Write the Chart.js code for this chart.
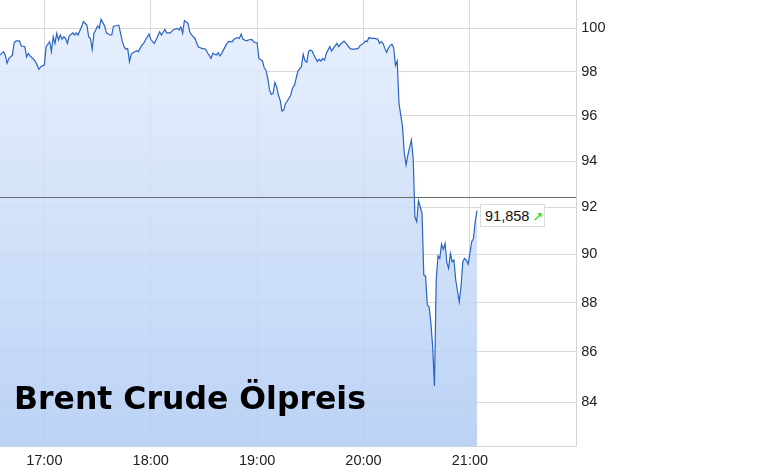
<!DOCTYPE html>
<html>
<head>
    <meta charset="utf-8">
    <title>Brent Crude Ölpreis</title>
    <style>
        body {
            margin: 0;
            background: #fff;
        }
        .wrap {
            position: relative;
            width: 773px;
            height: 472px;
        }
        .title {
            position: absolute;
            left: 14px;
            top: 383px;
            font-family: "DejaVu Sans", Verdana, sans-serif;
            font-weight: bold;
            font-size: 31.5px;
            line-height: 1;
            color: #000;
            white-space: nowrap;
        }
        .last {
            position: absolute;
            left: 480px;
            top: 204px;
            width: 65px;
            height: 23px;
            border: 1px solid #dcdcdc;
            background: #fff;
            font-family: "Liberation Sans", Arial, sans-serif;
            font-size: 14.5px;
            line-height: 22px;
            color: #111;
            padding-left: 4px;
            box-sizing: border-box;
            white-space: nowrap;
        }
        .last span {
            color: #00e000;
            font-size: 13px;
            margin-left: 3px;
            font-family: "DejaVu Sans", sans-serif;
        }
    </style>
    <script src="https://cdn.jsdelivr.net/npm/chart.js@4.4.1/dist/chart.umd.min.js"></script>
</head>
<body>
    <div class="wrap">
        <canvas id="oilChart" width="773" height="472"></canvas>
        <div class="title">Brent Crude Ölpreis</div>
        <div class="last">91,858<span>↗</span></div>
    </div>
    <script>
        const times = [
            '16:35', '16:37', '16:38', '16:39', '16:40', '16:42', '16:43', '16:44', '16:46', '16:47',
            '16:49', '16:50', '16:51', '16:52', '16:54', '16:55', '16:57', '16:58', '17:00', '17:01',
            '17:03', '17:04', '17:05', '17:06', '17:07', '17:08', '17:09', '17:10', '17:11', '17:12',
            '17:13', '17:14', '17:16', '17:17', '17:18', '17:19', '17:21', '17:22', '17:24', '17:25',
            '17:26', '17:27', '17:28', '17:29', '17:30', '17:31', '17:32', '17:34', '17:35', '17:37',
            '17:38', '17:39', '17:40', '17:42', '17:43', '17:44', '17:45', '17:46', '17:47', '17:48',
            '17:49', '17:50', '17:52', '17:53', '17:55', '17:56', '17:57', '17:59', '18:00', '18:02',
            '18:03', '18:05', '18:06', '18:08', '18:09', '18:11', '18:13', '18:15', '18:16', '18:17',
            '18:18', '18:19', '18:21', '18:22', '18:23', '18:25', '18:26', '18:27', '18:29', '18:31',
            '18:32', '18:34', '18:35', '18:37', '18:38', '18:39', '18:40', '18:42', '18:43', '18:44',
            '18:46', '18:47', '18:49', '18:50', '18:51', '18:52', '18:54', '18:55', '18:57', '18:58',
            '18:59', '19:00', '19:01', '19:03', '19:04', '19:05', '19:06', '19:07', '19:08', '19:09',
            '19:10', '19:11', '19:12', '19:13', '19:14', '19:15', '19:16', '19:17', '19:19', '19:20',
            '19:21', '19:22', '19:23', '19:25', '19:26', '19:27', '19:28', '19:29', '19:30', '19:31',
            '19:32', '19:33', '19:34', '19:35', '19:36', '19:37', '19:38', '19:39', '19:41', '19:42',
            '19:43', '19:45', '19:46', '19:47', '19:49', '19:51', '19:52', '19:53', '19:55', '19:57',
            '19:58', '20:00', '20:01', '20:02', '20:03', '20:05', '20:06', '20:08', '20:09', '20:10',
            '20:11', '20:12', '20:13', '20:14', '20:15', '20:16', '20:17', '20:18', '20:19', '20:20',
            '20:22', '20:23', '20:24', '20:25', '20:27', '20:28', '20:29', '20:30', '20:31', '20:32',
            '20:33', '20:34', '20:35', '20:36', '20:37', '20:38', '20:39', '20:40', '20:41', '20:42',
            '20:43', '20:44', '20:45', '20:46', '20:47', '20:48', '20:49', '20:50', '20:51', '20:52',
            '20:54', '20:55', '20:56', '20:57', '20:58', '20:59', '21:00', '21:01', '21:02', '21:03',
            '21:04'
        ];
        const prices = [
            98.76, 98.92, 98.76, 98.38, 98.61, 98.76, 99.33, 99.42, 99.42, 99.18,
            99.15, 98.68, 98.84, 98.72, 98.56, 98.46, 98.11, 98.23, 98.30, 99.15,
            99.38, 98.92, 99.61, 99.30, 99.77, 99.46, 99.69, 99.49, 99.61, 99.53,
            99.30, 99.64, 99.79, 99.69, 99.79, 99.69, 100.07, 100.31, 100.15, 99.61,
            99.53, 99.03, 99.77, 99.92, 100.11, 100.00, 100.42, 100.11, 99.79, 99.69,
            99.69, 100.11, 100.11, 100.15, 99.77, 99.38, 99.15, 99.03, 99.07, 98.46,
            98.81, 98.87, 98.96, 98.92, 99.22, 99.30, 99.46, 99.73, 99.49, 99.30,
            99.46, 99.84, 99.69, 99.95, 99.79, 99.79, 99.95, 100.00, 99.92, 100.07,
            99.77, 100.36, 100.23, 99.84, 99.69, 99.53, 99.30, 99.12, 99.07, 99.03,
            98.87, 98.61, 98.84, 98.76, 98.87, 98.72, 98.84, 99.15, 99.30, 99.38,
            99.38, 99.49, 99.58, 99.53, 99.73, 99.49, 99.42, 99.46, 99.49, 99.38,
            99.33, 99.33, 98.61, 98.49, 98.18, 98.07, 97.70, 97.16, 96.97, 97.01,
            97.51, 97.31, 96.94, 96.71, 96.22, 96.26, 96.56, 96.67, 96.94, 97.27,
            97.36, 97.70, 98.03, 98.23, 98.80, 98.49, 98.43, 98.92, 99.00, 98.95,
            98.76, 98.61, 98.46, 98.57, 98.49, 98.61, 98.53, 98.84, 99.15, 98.95,
            99.07, 99.30, 99.15, 99.26, 99.41, 99.22, 99.10, 99.04, 99.04, 99.07,
            99.19, 99.30, 99.41, 99.38, 99.56, 99.53, 99.53, 99.50, 99.30, 99.38,
            99.30, 99.07, 98.89, 99.07, 99.19, 99.26, 99.10, 98.28, 98.49, 96.56,
            95.52, 94.34, 93.83, 94.26, 94.93, 94.12, 91.59, 91.38, 92.28, 92.02,
            91.74, 89.14, 89.09, 87.90, 87.83, 87.15, 86.21, 84.64, 88.93, 89.93,
            89.83, 90.43, 90.21, 90.46, 89.65, 89.41, 90.04, 89.69, 89.76, 88.93,
            88.03, 88.65, 89.69, 89.83, 89.76, 89.59, 90.04, 90.53, 90.67, 91.38,
            91.858
        ];
        const hourTicks = ['17:00', '18:00', '19:00', '20:00', '21:00'];
        const priceTicks = [84, 86, 88, 90, 92, 94, 96, 98, 100];
        const prevClose = 92.42;

        function toMin(t) {
            const [h, m] = t.split(':').map(Number);
            return h * 60 + m;
        }
        function fmtMin(v) {
            const h = Math.floor(v / 60), m = Math.round(v % 60);
            return String(h).padStart(2, '0') + ':' + String(m).padStart(2, '0');
        }
        // no extra room for edge labels, the plot runs to the canvas edges
        function noPad(s) {
            s.paddingTop = 0;
            s.paddingBottom = 0;
            s.paddingLeft = 0;
            s.paddingRight = 0;
        }

        const points = times.map((t, i) => ({ x: toMin(t), y: prices[i] }));
        const tickFont = { family: '"Liberation Sans", Arial, sans-serif', size: 14.5 };

        // dark line for the previous close
        const refLine = {
            id: 'refLine',
            afterDatasetsDraw(chart) {
                const { ctx, chartArea, scales } = chart;
                const y = Math.round(scales.y.getPixelForValue(prevClose)) + 0.5;
                ctx.save();
                ctx.strokeStyle = '#6a6a6a';
                ctx.lineWidth = 1;
                ctx.beginPath();
                ctx.moveTo(chartArea.left, y);
                ctx.lineTo(chartArea.right, y);
                ctx.stroke();
                ctx.restore();
            }
        };

        const chart = new Chart(document.getElementById('oilChart'), {
            type: 'line',
            data: {
                datasets: [{
                    data: points,
                    borderColor: '#2b63c5',
                    borderWidth: 1.2,
                    pointRadius: 0,
                    tension: 0,
                    fill: 'start',
                    backgroundColor: (c) => {
                        const area = c.chart.chartArea;
                        if (!area) return 'rgba(200,220,248,0.8)';
                        const g = c.chart.ctx.createLinearGradient(0, area.top, 0, area.bottom);
                        g.addColorStop(0, 'rgba(229,238,252,0.85)');
                        g.addColorStop(1, 'rgba(176,203,244,0.85)');
                        return g;
                    }
                }]
            },
            options: {
                responsive: false,
                animation: false,
                layout: { padding: 0 },
                plugins: {
                    legend: { display: false },
                    tooltip: { enabled: false }
                },
                scales: {
                    x: {
                        type: 'linear',
                        min: 995,
                        max: 1320,
                        afterBuildTicks: (s) => { s.ticks = hourTicks.map(t => ({ value: toMin(t) })); },
                        afterFit: (s) => { s.height = 25.3; noPad(s); },
                        ticks: {
                            autoSkip: false,
                            maxRotation: 0,
                            padding: 6,
                            color: '#222',
                            font: tickFont,
                            callback: (v) => fmtMin(v)
                        },
                        grid: { color: '#dadada', drawTicks: false },
                        border: { color: '#d4d4d4' }
                    },
                    y: {
                        type: 'logarithmic',
                        position: 'right',
                        min: 82.28,
                        max: 101.33,
                        afterBuildTicks: (s) => { s.ticks = priceTicks.map(v => ({ value: v })); },
                        afterFit: (s) => { s.width = 196.7; noPad(s); },
                        ticks: {
                            autoSkip: false,
                            padding: 5,
                            color: '#222',
                            font: tickFont,
                            callback: (v) => String(v)
                        },
                        grid: { color: '#dadada', drawTicks: false },
                        border: { color: '#d4d4d4' }
                    }
                }
            },
            plugins: [refLine]
        });
    </script>
</body>
</html>
